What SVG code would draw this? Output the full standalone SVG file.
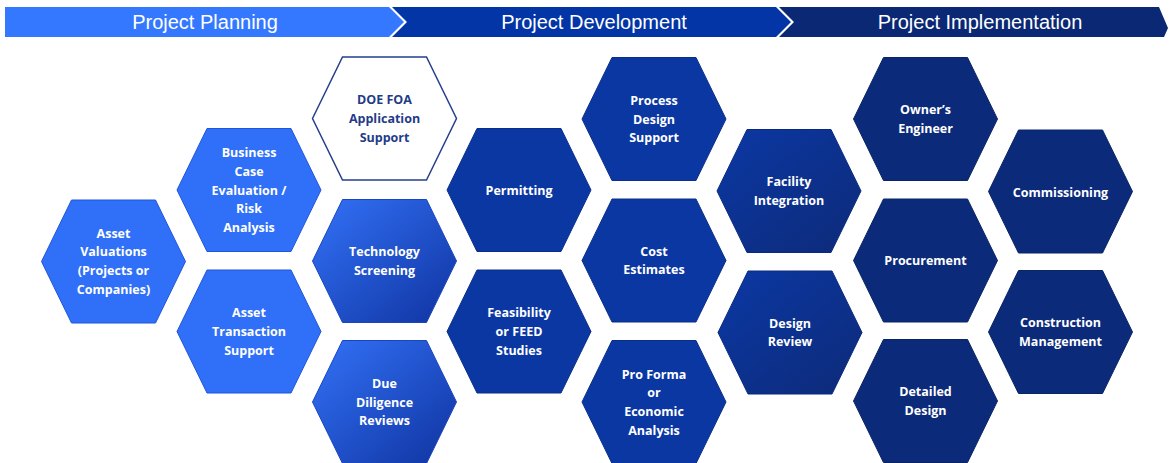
<svg xmlns="http://www.w3.org/2000/svg" width="1169" height="463" viewBox="0 0 1169 463">
<defs>
<style>
.hdr{font-family:"Liberation Sans",Arial,sans-serif;font-size:20px;fill:#fff;text-anchor:middle}
.lbl{font-family:"Open Sans","Liberation Sans",sans-serif;font-weight:700;font-size:12.5px;fill:#fff;text-anchor:middle}
.lbl.dk{fill:#1F3C88}
.plan{fill:#3070F8;stroke:#1F55D8;stroke-width:1}
.dev{fill:#0B37A2;stroke:#0A2F8A;stroke-width:1}
.imp{fill:#0C2A7A;stroke:#0A2466;stroke-width:1}
.white{fill:#fff;stroke:#24408F;stroke-width:1.5}
.g1{fill:url(#gPlan);stroke:#1A45C0;stroke-width:1}
.g2{fill:url(#gDev);stroke:#0A2A80;stroke-width:1}
</style>
<linearGradient id="gPlan" x1="0" y1="0" x2="1" y2="1">
<stop offset="0" stop-color="#3372F8"/>
<stop offset="1" stop-color="#0F33A0"/>
</linearGradient>
<linearGradient id="gDev" x1="0" y1="0" x2="1" y2="1">
<stop offset="0" stop-color="#0B38A4"/>
<stop offset="1" stop-color="#0D2A78"/>
</linearGradient>
<polygon id="hex" points="-72,0 -42,-61.5 42,-61.5 72,0 42,61.5 -42,61.5"/>
</defs>
<rect width="1169" height="463" fill="#fff"/>

<g id="header">
<polygon points="5,7 389,7 404,22 389,37 5,37" fill="#3478FF"/>
<polygon points="392,7 776,7 791,22 776,37 392,37 407,22" fill="#0335A6"/>
<polygon points="779,7 1159,7 1168,28 1164,37 779,37 794,22" fill="#0A2873"/>
<text class="hdr" x="205" y="29">Project Planning</text>
<text class="hdr" x="594" y="29">Project Development</text>
<text class="hdr" x="980" y="29">Project Implementation</text>
</g>

<g id="connectors"></g>

<g id="asset-valuations" transform="translate(113.5,261.5)">
<use href="#hex" class="plan"/>
<text class="lbl" y="-24"><tspan x="0">Asset</tspan><tspan x="0" dy="18.7">Valuations</tspan><tspan x="0" dy="18.7">(Projects or</tspan><tspan x="0" dy="18.7">Companies)</tspan></text>
</g>
<g id="business-case" transform="translate(249,190)">
<use href="#hex" class="plan"/>
<text class="lbl" y="-32.9"><tspan x="0">Business</tspan><tspan x="0" dy="18.7">Case</tspan><tspan x="0" dy="18.7">Evaluation /</tspan><tspan x="0" dy="18.7">Risk</tspan><tspan x="0" dy="18.7">Analysis</tspan></text>
</g>
<g id="asset-transaction" transform="translate(249,331.5)">
<use href="#hex" class="plan"/>
<text class="lbl" y="-14.2"><tspan x="0">Asset</tspan><tspan x="0" dy="18.7">Transaction</tspan><tspan x="0" dy="18.7">Support</tspan></text>
</g>
<g id="doe-foa" transform="translate(384.5,118.5)">
<use href="#hex" class="white"/>
<text class="lbl dk" y="-14.2"><tspan x="0">DOE FOA</tspan><tspan x="0" dy="18.7">Application</tspan><tspan x="0" dy="18.7">Support</tspan></text>
</g>
<g id="technology-screening" transform="translate(384.5,261)">
<use href="#hex" class="g1"/>
<text class="lbl" y="-4.85"><tspan x="0">Technology</tspan><tspan x="0" dy="18.7">Screening</tspan></text>
</g>
<g id="due-diligence" transform="translate(384.5,402)">
<use href="#hex" class="g1"/>
<text class="lbl" y="-14.2"><tspan x="0">Due</tspan><tspan x="0" dy="18.7">Diligence</tspan><tspan x="0" dy="18.7">Reviews</tspan></text>
</g>
<g id="permitting" transform="translate(519,190)">
<use href="#hex" class="dev"/>
<text class="lbl" x="0" y="4.5">Permitting</text>
</g>
<g id="feasibility" transform="translate(519,331.5)">
<use href="#hex" class="dev"/>
<text class="lbl" y="-14.2"><tspan x="0">Feasibility</tspan><tspan x="0" dy="18.7">or FEED</tspan><tspan x="0" dy="18.7">Studies</tspan></text>
</g>
<g id="process-design" transform="translate(654,119)">
<use href="#hex" class="dev"/>
<text class="lbl" y="-14.2"><tspan x="0">Process</tspan><tspan x="0" dy="18.7">Design</tspan><tspan x="0" dy="18.7">Support</tspan></text>
</g>
<g id="cost-estimates" transform="translate(654,260.5)">
<use href="#hex" class="dev"/>
<text class="lbl" y="-4.85"><tspan x="0">Cost</tspan><tspan x="0" dy="18.7">Estimates</tspan></text>
</g>
<g id="pro-forma" transform="translate(654,402)">
<use href="#hex" class="dev"/>
<text class="lbl" y="-23.5"><tspan x="0">Pro Forma</tspan><tspan x="0" dy="18.7">or</tspan><tspan x="0" dy="18.7">Economic</tspan><tspan x="0" dy="18.7">Analysis</tspan></text>
</g>
<g id="facility-integration" transform="translate(789,191)">
<use href="#hex" class="g2"/>
<text class="lbl" y="-4.85"><tspan x="0">Facility</tspan><tspan x="0" dy="18.7">Integration</tspan></text>
</g>
<g id="design-review" transform="translate(790,332.5)">
<use href="#hex" class="g2"/>
<text class="lbl" y="-4.85"><tspan x="0">Design</tspan><tspan x="0" dy="18.7">Review</tspan></text>
</g>
<g id="owners-engineer" transform="translate(925.5,119)">
<use href="#hex" class="imp"/>
<text class="lbl" y="-4.85"><tspan x="0">Owner’s</tspan><tspan x="0" dy="18.7">Engineer</tspan></text>
</g>
<g id="procurement" transform="translate(925.5,260.5)">
<use href="#hex" class="imp"/>
<text class="lbl" x="0" y="4.5">Procurement</text>
</g>
<g id="detailed-design" transform="translate(925.5,401)">
<use href="#hex" class="imp"/>
<text class="lbl" y="-4.85"><tspan x="0">Detailed</tspan><tspan x="0" dy="18.7">Design</tspan></text>
</g>
<g id="commissioning" transform="translate(1060.5,191.5)">
<use href="#hex" class="imp"/>
<text class="lbl" x="0" y="5.5">Commissioning</text>
</g>
<g id="construction-management" transform="translate(1060.5,332)">
<use href="#hex" class="imp"/>
<text class="lbl" y="-4.85"><tspan x="0">Construction</tspan><tspan x="0" dy="18.7">Management</tspan></text>
</g>
</svg>
